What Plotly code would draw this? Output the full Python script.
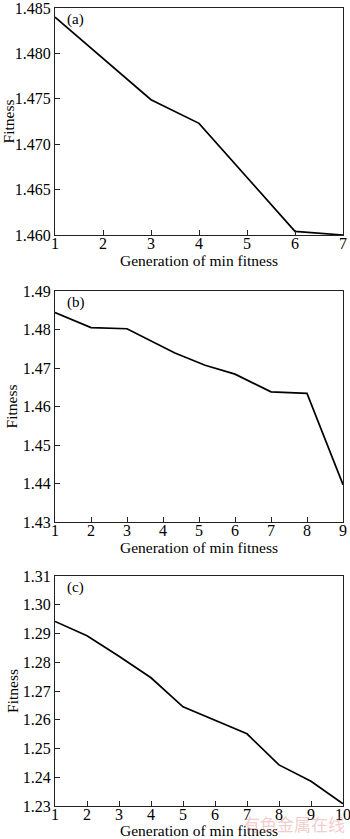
import plotly.graph_objects as go

# Panel (a)
gen_a = [1, 2, 3, 4, 5, 6, 7]
fit_a = [1.4840, 1.4794, 1.4749, 1.4723, 1.4664, 1.4604, 1.4600]

# Panel (b)
gen_b = [1, 2, 3, 4.33, 5.17, 6, 7, 8, 9]
fit_b = [1.4844, 1.4805, 1.4802, 1.4739, 1.4707, 1.4684, 1.4638, 1.4634, 1.4397]

# Panel (c)
gen_c = [1, 2, 3, 4, 5, 6, 7, 8, 9, 10]
fit_c = [1.2942, 1.2892, 1.2821, 1.2746, 1.2645, 1.2598, 1.2551, 1.2443, 1.2386, 1.2308]

labels = ["(a)", "(b)", "(c)"]
xlabel = "Generation of min fitness"
ylabel = "Fitness"

W, H = 350, 839
FONT = "Liberation Serif, Times New Roman, serif"

def py(px):
    return 1 - px / H

panels = [
    dict(x=gen_a, y=fit_a, xr=[1, 7], yr=[1.460, 1.485], dt=0.005, fmt=".3f", top=8, bot=235, stand=1),
    dict(x=gen_b, y=fit_b, xr=[1, 9], yr=[1.43, 1.49], dt=0.01, fmt=".2f", top=291, bot=522, stand=1),
    dict(x=gen_c, y=fit_c, xr=[1, 10], yr=[1.23, 1.31], dt=0.01, fmt=".2f", top=576, bot=806, stand=0),
]

fig = go.Figure()
xdom = [55 / W, 343 / W]
for i, p in enumerate(panels):
    n = "" if i == 0 else str(i + 1)
    fig.add_trace(go.Scatter(x=p["x"], y=p["y"], mode="lines",
                             line=dict(color="black", width=1.7),
                             xaxis="x" + n, yaxis="y" + n, showlegend=False,
                             cliponaxis=False))
    axcommon = dict(showline=True, linecolor="#222", linewidth=1, mirror=True,
                    ticks="inside", ticklen=5, tickcolor="#222", showgrid=False,
                    zeroline=False, automargin=False, ticklabeloverflow="allow",
                    tickfont=dict(family=FONT, size=16, color="black"))
    fig.update_layout(**{
        "xaxis" + n: dict(domain=xdom, range=p["xr"], dtick=1, tick0=1,
                          anchor="y" + n, ticklabelstandoff=-6,
                          title=dict(text=xlabel, font=dict(family=FONT, size=15.5, color="black"), standoff=0),
                          **axcommon),
        "yaxis" + n: dict(domain=[py(p["bot"]), py(p["top"])], range=p["yr"], dtick=p["dt"],
                          tick0=p["yr"][0], tickformat=p["fmt"], anchor="x" + n,
                          title=dict(text=ylabel, font=dict(family=FONT, size=15.5, color="black"), standoff=p["stand"]),
                          **axcommon),
    })
    fig.add_annotation(text=labels[i], xref="x" + n + " domain", yref="y" + n + " domain",
                       x=0.035, y=0.95, xanchor="left", yanchor="middle", showarrow=False,
                       font=dict(family=FONT, size=15, color="black"))

fig.add_annotation(text="有色金属在线", xref="paper", yref="paper", x=347 / W, y=py(823),
                   xanchor="right", yanchor="middle", showarrow=False,
                   font=dict(family="Noto Sans CJK SC", size=17, color="rgba(230,140,140,0.45)"))

fig.update_layout(width=W, height=H, margin=dict(l=0, r=0, t=0, b=0),
                  paper_bgcolor="white", plot_bgcolor="white")

fig.write_html("out.html")
